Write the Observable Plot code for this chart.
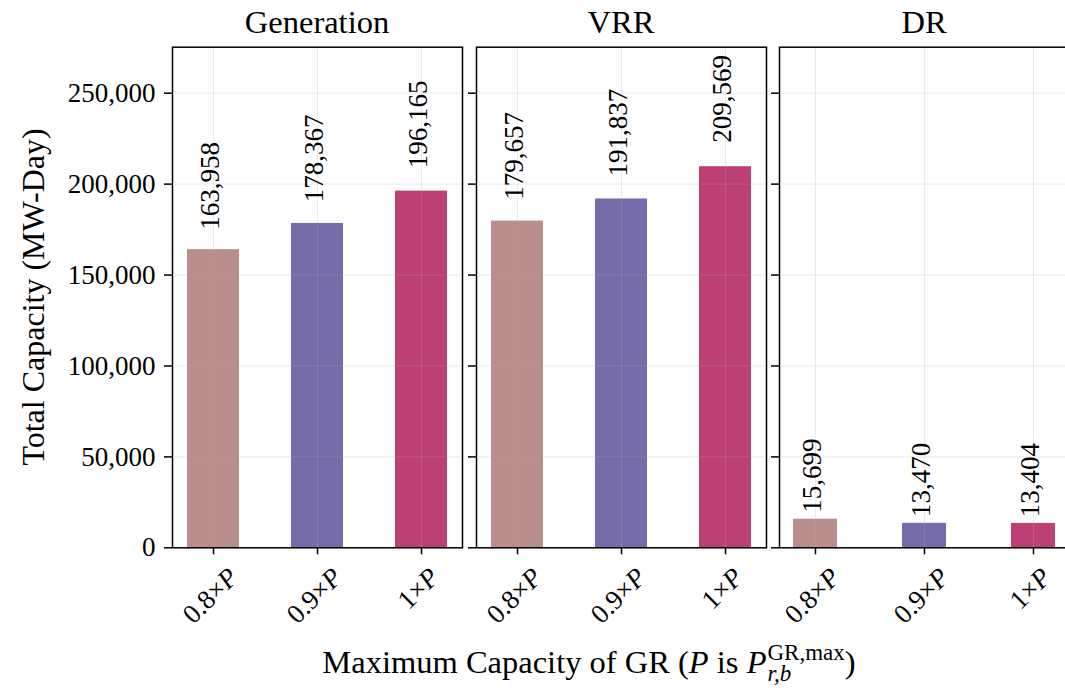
<!DOCTYPE html>
<html><head><meta charset="utf-8">
<script src="https://cdn.jsdelivr.net/npm/d3@7"></script>
<script src="https://cdn.jsdelivr.net/npm/@observablehq/plot@0.6"></script>
<style>
body{margin:0;background:#fff;overflow:hidden}
#wrap{position:relative;width:1065px;height:688px;overflow:hidden;font-family:"Liberation Serif",serif;color:#000}
#wrap svg{position:absolute;top:0}
#wrap svg, #wrap svg text, #wrap svg g{font-family:"Liberation Serif",serif !important}
.ptitle{position:absolute;top:6px;font-size:32.5px;line-height:32px;white-space:nowrap;transform:translateX(-50%)}
#ytitle{position:absolute;left:33px;top:297px;font-size:32px;line-height:32px;white-space:nowrap;transform:translate(-50%,-50%) rotate(-90deg)}
#xtitle{position:absolute;left:589px;top:644px;font-size:32.5px;line-height:36px;white-space:nowrap;transform:translateX(-50%)}
.ss{position:relative;display:inline-block;font-size:23px;line-height:23px;margin-left:1px}
.sup{position:relative;top:-13px}
.sub{position:absolute;left:0;top:8px}
</style></head><body><div id="wrap"></div>
<script>
// ---- data ----
const panels = ["Generation", "VRR", "DR"];
const levels = ["0.8×P", "0.9×P", "1×P"];
const generation = [163958, 178367, 196165];
const vrr = [179657, 191837, 209569];
const dr = [15699, 13470, 13404];
const colors = ["#b98e8c", "#766ca9", "#bd4075"];
const yTicks = [0, 50000, 100000, 150000, 200000, 250000];

// ---- layout ----
const wrap = document.getElementById("wrap");
const panelLeft = [172, 476, 779];
const panelW = 290;
const top0 = 46.7, bottom0 = 547.3, H = 688;
const fs = 27;
const fmt = d3.format(",");
const ctx = document.createElement("canvas").getContext("2d");
ctx.font = `${fs}px "Liberation Serif"`;

const series = [generation, vrr, dr];
const pad = [[0.5, 0.131], [0.5, 0.131], [0.598, 0.119]];

series.forEach((vals, i) => {
  const data = levels.map((k, j) => ({level: k, value: vals[j]}));
  const ml = i === 0 ? panelLeft[0] : 20;
  const mr = i === 2 ? 0 : 10;
  const left = panelLeft[i] - ml;
  const tickLabels = data.map(d => {
    const w = ctx.measureText(d.level).width;
    return Plot.text([d], {x: "level", frameAnchor: "bottom", text: "level", rotate: -45,
      textAnchor: "middle", lineAnchor: "middle", fontSize: fs, dx: -3,
      dy: 19 + (w + 18) * 0.7071 / 2});
  });
  const svg = Plot.plot({
    width: ml + panelW + mr, height: H,
    marginLeft: ml, marginRight: mr, marginTop: top0, marginBottom: H - bottom0,
    x: {domain: levels, paddingInner: pad[i][0], paddingOuter: pad[i][1], axis: null},
    y: {domain: [0, 275300], axis: null},
    color: {domain: levels, range: colors},
    style: {fontFamily: "'Liberation Serif', serif", fontSize: fs + "px", background: "transparent", overflow: "visible", color: "#000"},
    marks: [
      Plot.barY(data, {x: "level", y: "value", fill: "level"}),
      Plot.gridY(yTicks, {stroke: "#b0b0b0", strokeOpacity: 0.25, strokeWidth: 1}),
      Plot.gridX(levels, {stroke: "#b0b0b0", strokeOpacity: 0.25, strokeWidth: 1}),
      Plot.frame({stroke: "#000", strokeWidth: 1.5}),
      Plot.axisY(yTicks, {tickSize: 8, tickPadding: 9, strokeWidth: 1.5, fontSize: fs,
        tickFormat: i === 0 ? fmt : () => "", label: null}),
      Plot.axisX({tickSize: 7, strokeWidth: 1.5, tickFormat: () => "", label: null}),
      Plot.text(data, {x: "level", y: d => d.value * 1.05, text: d => fmt(d.value), rotate: -90,
        textAnchor: "start", dy: -5, dx: -3, fontSize: fs}),
      ...tickLabels
    ]
  });
  svg.style.left = left + "px";
  svg.setAttribute("font-family", "Liberation Serif");
  svg.querySelectorAll("text").forEach(t => {
    const s = t.textContent;
    if (/×P$/.test(s)) {
      t.textContent = "";
      t.appendChild(document.createTextNode(s.slice(0, -1)));
      const ts = document.createElementNS("http://www.w3.org/2000/svg", "tspan");
      ts.setAttribute("font-style", "italic");
      ts.textContent = "P";
      t.appendChild(ts);
    }
  });
  wrap.appendChild(svg);

  const t = document.createElement("div");
  t.className = "ptitle";
  t.style.left = (panelLeft[i] + panelW / 2) + "px";
  t.textContent = panels[i];
  wrap.appendChild(t);
});

const yt = document.createElement("div");
yt.id = "ytitle";
yt.textContent = "Total Capacity (MW-Day)";
wrap.appendChild(yt);

const xt = document.createElement("div");
xt.id = "xtitle";
xt.innerHTML = 'Maximum Capacity of GR (<i>P</i> is <i>P</i><span class="ss"><span class="sup">GR,max</span><span class="sub"><i>r,b</i></span></span>)';
wrap.appendChild(xt);
</script></body></html>
